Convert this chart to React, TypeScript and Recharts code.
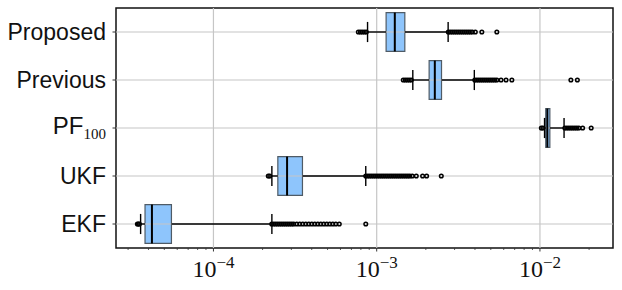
import React from "react";
import {
  ScatterChart,
  Scatter,
  XAxis,
  YAxis,
  ReferenceLine,
  ReferenceArea,
} from "recharts";

// rows top to bottom, "_" marks a subscript
const categories = ["Proposed", "Previous", "PF_100", "UKF", "EKF"];

// [lower whisker, Q1, median, Q3, upper whisker]
const proposedBox = [8.79e-4, 1.142e-3, 1.291e-3, 1.487e-3, 2.739e-3];
const previousBox = [1.664e-3, 2.095e-3, 2.27e-3, 2.495e-3, 3.963e-3];
const pfBox = [0.01067, 0.01085, 0.0111, 0.0115, 0.01405];
const ukfBox = [2.28e-4, 2.48e-4, 2.825e-4, 3.51e-4, 8.57e-4];
const ekfBox = [3.58e-5, 3.81e-5, 4.2e-5, 5.53e-5, 2.28e-4];

const proposedOutliers = [
  7.72e-4, 7.94e-4, 8.16e-4, 8.4e-4, 8.64e-4,
  2.746e-3, 2.825e-3, 2.905e-3, 2.989e-3, 3.074e-3, 3.162e-3, 3.253e-3,
  3.346e-3, 3.442e-3, 3.54e-3, 3.641e-3, 3.745e-3, 3.853e-3, 4.019e-3,
  4.406e-3, 5.444e-3,
];
const previousOutliers = [
  1.455e-3, 1.497e-3, 1.54e-3, 1.584e-3, 1.629e-3,
  3.99e-3, 4.104e-3, 4.221e-3, 4.342e-3, 4.466e-3, 4.594e-3, 4.725e-3,
  4.861e-3, 5.0e-3, 5.143e-3, 5.29e-3, 5.444e-3, 5.777e-3, 6.199e-3,
  6.728e-3, 0.01547, 0.01695,
];
const pfOutliers = [
  0.0102, 0.01042,
  0.01421, 0.01462, 0.01504, 0.01547, 0.0159, 0.01636, 0.01682, 0.01731,
  0.01826, 0.0206,
];
const ukfOutliers = [
  2.167e-4, 2.213e-4,
  8.57e-4, 8.82e-4, 9.07e-4, 9.33e-4, 9.6e-4, 9.87e-4, 1.016e-3, 1.045e-3,
  1.075e-3, 1.105e-3, 1.137e-3, 1.169e-3, 1.203e-3, 1.237e-3, 1.273e-3,
  1.309e-3, 1.347e-3, 1.385e-3, 1.425e-3, 1.466e-3, 1.508e-3, 1.551e-3,
  1.595e-3, 1.652e-3, 1.748e-3, 1.911e-3, 2.022e-3, 2.487e-3,
];
const ekfOutliers = [
  3.42e-5, 3.47e-5, 3.52e-5,
  2.276e-4, 2.342e-4, 2.409e-4, 2.477e-4, 2.548e-4, 2.621e-4, 2.696e-4,
  2.773e-4, 2.852e-4, 2.934e-4, 3.018e-4, 3.104e-4, 3.238e-4, 3.378e-4,
  3.524e-4, 3.677e-4, 3.836e-4, 4.002e-4, 4.175e-4, 4.356e-4, 4.544e-4,
  4.741e-4, 4.945e-4, 5.16e-4, 5.383e-4, 5.616e-4, 5.9e-4, 8.573e-4,
];

const majorTicks = [1e-4, 1e-3, 1e-2];
const minorTicks = [
  3e-5, 4e-5, 5e-5, 6e-5, 7e-5, 8e-5, 9e-5,
  2e-4, 3e-4, 4e-4, 5e-4, 6e-4, 7e-4, 8e-4, 9e-4,
  2e-3, 3e-3, 4e-3, 5e-3, 6e-3, 7e-3, 8e-3, 9e-3,
  2e-2,
];
const xDomain = [2.53e-5, 0.02802];

const boxes = [proposedBox, previousBox, pfBox, ukfBox, ekfBox];
const outliers = [proposedOutliers, previousOutliers, pfOutliers, ukfOutliers, ekfOutliers];

const BOX_HALF = 0.405;
const CAP_HALF = 0.21;
const gridColor = "#c6c6c6";

function XTick({ x, y, payload }: any) {
  const v = payload.value;
  const major = majorTicks.includes(v);
  const exp = Math.round(Math.log10(v));
  return (
    <g>
      <line x1={x} x2={x} y1={y} y2={y + (major ? 3.5 : 2)} stroke="#333" strokeWidth={major ? 1 : 0.8} />
      {major && (
        <text x={x} y={y + 29} textAnchor="middle" fontFamily="Liberation Serif" fontSize={24} fill="#111">
          10
          <tspan fontSize={17} dy={-9}>
            {"\u2212" + Math.abs(exp)}
          </tspan>
        </text>
      )}
    </g>
  );
}

function YTick({ x, y, payload }: any) {
  const label = categories[payload.value - 1] || "";
  const [main, sub] = label.split("_");
  return (
    <g>
      <line x1={x - 3.5} x2={x} y1={y} y2={y} stroke="#333" strokeWidth={1} />
      <text
        x={x - 10}
        y={sub ? y + 5.5 : y + 8.4}
        textAnchor="end"
        fontFamily="Liberation Sans"
        fontSize={sub ? 24 : 23}
        fill="#111"
      >
        {main}
        {sub && (
          <tspan fontFamily="Liberation Serif" fontSize={15} dy={5}>
            {sub}
          </tspan>
        )}
      </text>
    </g>
  );
}

export default function App() {
  return (
    <div style={{ position: "absolute", left: 0, top: 0, width: 622, height: 290, background: "#fff" }}>
      <ScatterChart width={622} height={290} margin={{ top: 8, right: 9, bottom: 0, left: 0 }}>
        <XAxis
          type="number"
          dataKey="x"
          scale="log"
          domain={xDomain}
          allowDataOverflow
          ticks={[...minorTicks, ...majorTicks]}
          interval={0}
          tick={<XTick />}
          tickLine={false}
          tickSize={0}
          tickMargin={0}
          axisLine={false}
          height={42}
        />
        <YAxis
          type="number"
          dataKey="y"
          domain={[0.5, 5.5]}
          reversed
          ticks={[1, 2, 3, 4, 5]}
          interval={0}
          tick={<YTick />}
          tickLine={false}
          tickSize={0}
          tickMargin={0}
          axisLine={false}
          width={116}
        />

        {/* grid */}
        {majorTicks.map((t) => (
          <ReferenceLine key={"gx" + t} x={t} stroke={gridColor} strokeWidth={1.2} />
        ))}
        {categories.map((c, i) => (
          <ReferenceLine key={"gy" + c} y={i + 1} stroke={gridColor} strokeWidth={1.2} />
        ))}

        {/* whiskers and caps */}
        {boxes.map((b, i) => (
          <ReferenceLine
            key={"wl" + i}
            segment={[{ x: b[0], y: i + 1 }, { x: b[1], y: i + 1 }]}
            stroke="#000"
            strokeWidth={1.4}
          />
        ))}
        {boxes.map((b, i) => (
          <ReferenceLine
            key={"wh" + i}
            segment={[{ x: b[3], y: i + 1 }, { x: b[4], y: i + 1 }]}
            stroke="#000"
            strokeWidth={1.4}
          />
        ))}
        {boxes.map((b, i) => (
          <ReferenceLine
            key={"cl" + i}
            segment={[{ x: b[0], y: i + 1 - CAP_HALF }, { x: b[0], y: i + 1 + CAP_HALF }]}
            stroke="#000"
            strokeWidth={1.4}
          />
        ))}
        {boxes.map((b, i) => (
          <ReferenceLine
            key={"ch" + i}
            segment={[{ x: b[4], y: i + 1 - CAP_HALF }, { x: b[4], y: i + 1 + CAP_HALF }]}
            stroke="#000"
            strokeWidth={1.4}
          />
        ))}

        {/* boxes */}
        {boxes.map((b, i) => (
          <ReferenceArea
            key={"box" + i}
            x1={b[1]}
            x2={b[3]}
            y1={i + 1 - BOX_HALF}
            y2={i + 1 + BOX_HALF}
            fill="#8ec5fc"
            fillOpacity={1}
            stroke="#4f5b66"
            strokeWidth={1.2}
          />
        ))}
        {boxes.map((b, i) => (
          <ReferenceLine
            key={"med" + i}
            segment={[{ x: b[2], y: i + 1 - BOX_HALF }, { x: b[2], y: i + 1 + BOX_HALF }]}
            stroke="#000"
            strokeWidth={2}
          />
        ))}

        {/* outliers */}
        {outliers.map((list, i) => (
          <Scatter
            key={"out" + i}
            data={list.map((v) => ({ x: v, y: i + 1 }))}
            isAnimationActive={false}
            shape={(p: any) => (
              <circle cx={p.cx} cy={p.cy} r={1.8} fill="none" stroke="#000" strokeWidth={1.5} />
            )}
          />
        ))}

        {/* frame */}
        <ReferenceArea
          x1={xDomain[0]}
          x2={xDomain[1]}
          y1={0.5}
          y2={5.5}
          fill="none"
          stroke="#111"
          strokeOpacity={1}
          strokeWidth={1.5}
          ifOverflow="visible"
        />
      </ScatterChart>
    </div>
  );
}
